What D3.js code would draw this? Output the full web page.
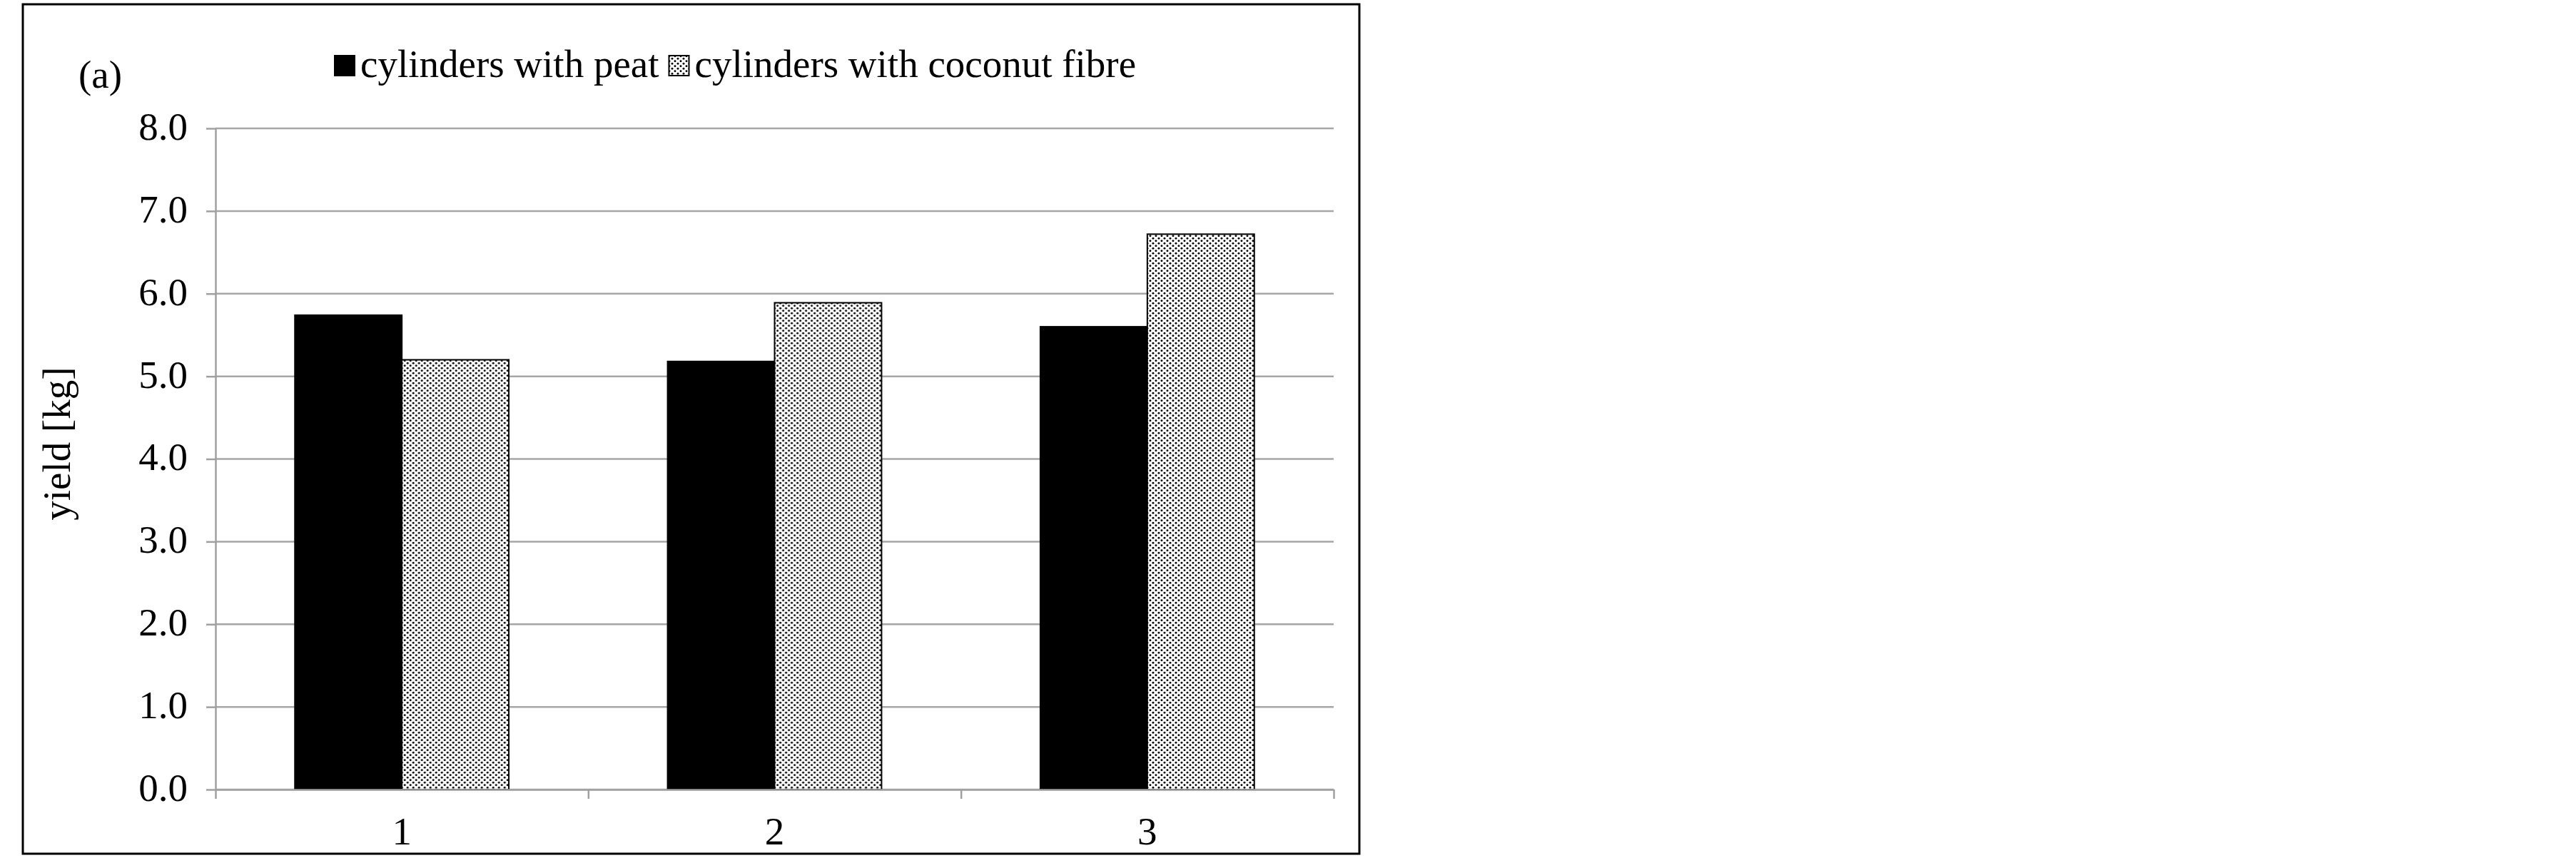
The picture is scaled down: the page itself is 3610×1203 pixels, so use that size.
<!DOCTYPE html>
<html>
<head>
<meta charset="utf-8">
<script src="https://cdn.jsdelivr.net/npm/d3@7"></script>
<style>
  body { margin: 0; background: #fff; }
  text { font-family: "Liberation Serif", "Times New Roman", serif; fill: #000; }
</style>
</head>
<body>
<div id="chart"></div>
<script>
// Chart data
var categories = ["1", "2", "3"];
var seriesNames = ["cylinders with peat", "cylinders with coconut fibre"];
var peat = [5.74, 5.18, 5.60];
var coconut = [5.20, 5.89, 6.72];
var yTicks = [0, 1, 2, 3, 4, 5, 6, 7, 8];

window.onload = function() {
    var width = 3610;
    var height = 1203;
    var plot = { left: 302, right: 1869, top: 180, bottom: 1107 };

    var svg = d3.select("#chart")
                .append("svg")
                .attr("width", width)
                .attr("height", height);

    svg.append("rect")
       .attr("width", width)
       .attr("height", height)
       .attr("fill", "#fff");

    // Dotted fill used for the coconut fibre series (staggered dots)
    var pat = svg.append("defs")
                 .append("pattern")
                 .attr("id", "dots")
                 .attr("patternUnits", "userSpaceOnUse")
                 .attr("width", 8)
                 .attr("height", 7);
    pat.append("rect").attr("width", 8).attr("height", 7).attr("fill", "#fff");
    [[2, 1.75], [6, 5.25], [-2, 5.25], [10, 1.75]].forEach(function(p) {
        pat.append("circle")
           .attr("cx", p[0])
           .attr("cy", p[1])
           .attr("r", 1.45)
           .attr("fill", "#000");
    });

    // Outer frame
    svg.append("rect")
       .attr("x", 32)
       .attr("y", 6)
       .attr("width", 1873)
       .attr("height", 1191)
       .attr("fill", "none")
       .attr("stroke", "#000")
       .attr("stroke-width", 3);

    // Scales
    var x0 = d3.scaleBand()
               .domain(categories)
               .range([plot.left, plot.right])
               .paddingInner(0.426)
               .paddingOuter(0.213);

    var x1 = d3.scaleBand()
               .domain([0, 1])
               .range([0, x0.bandwidth()]);

    var xEdges = d3.scaleLinear()
                   .domain([0, categories.length])
                   .range([plot.left, plot.right]);

    var y = d3.scaleLinear()
              .domain([0, 8])
              .range([plot.bottom, plot.top]);

    // Gridlines
    svg.append("g")
       .selectAll("line")
       .data(yTicks)
       .enter()
       .append("line")
       .attr("x1", plot.left)
       .attr("x2", plot.right)
       .attr("y1", function(d) { return y(d); })
       .attr("y2", function(d) { return y(d); })
       .attr("stroke", "#a6a6a6")
       .attr("stroke-width", 2.5);

    // Bars
    var data = categories.map(function(c, i) {
        return { cat: c, values: [peat[i], coconut[i]] };
    });

    var groups = svg.selectAll(".grp")
                    .data(data)
                    .enter()
                    .append("g")
                    .attr("class", "grp")
                    .attr("transform", function(d) { return "translate(" + x0(d.cat) + ",0)"; });

    groups.selectAll("rect")
          .data(function(d) { return d.values.map(function(v, k) { return { k: k, v: v }; }); })
          .enter()
          .append("rect")
          .attr("x", function(d) { return x1(d.k); })
          .attr("y", function(d) { return y(d.v); })
          .attr("width", x1.bandwidth())
          .attr("height", function(d) { return y(0) - y(d.v); })
          .attr("fill", function(d) { return d.k === 0 ? "#000" : "url(#dots)"; })
          .attr("stroke", "#000")
          .attr("stroke-width", 2);

    // Y axis
    var yAxis = svg.append("g")
                   .attr("transform", "translate(" + plot.left + ",0)")
                   .call(d3.axisLeft(y)
                           .tickValues(yTicks)
                           .tickSizeInner(13)
                           .tickSizeOuter(0)
                           .tickPadding(26)
                           .tickFormat(d3.format(".1f")));
    yAxis.selectAll("path, line").attr("stroke", "#a0a0a0").attr("stroke-width", 2.5);
    yAxis.selectAll("text")
         .attr("font-size", 55)
         .attr("dy", "0.28em")
         .style("font-family", "'Liberation Serif', serif");

    // X axis: boundary ticks
    var xAxis = svg.append("g")
                   .attr("transform", "translate(0," + plot.bottom + ")")
                   .call(d3.axisBottom(xEdges)
                           .tickValues([0, 1, 2, 3])
                           .tickSizeInner(13)
                           .tickSizeOuter(0)
                           .tickFormat(""));
    xAxis.selectAll("path, line").attr("stroke", "#a0a0a0").attr("stroke-width", 2.5);

    // X axis: category labels
    var xLabels = svg.append("g")
                     .attr("transform", "translate(0," + plot.bottom + ")")
                     .call(d3.axisBottom(x0).tickSize(0).tickPadding(38));
    xLabels.select(".domain").remove();
    xLabels.selectAll("text")
           .attr("font-size", 55)
           .style("font-family", "'Liberation Serif', serif");

    // Y axis title
    svg.append("text")
       .attr("transform", "translate(98,622) rotate(-90)")
       .attr("text-anchor", "middle")
       .attr("font-size", 55)
       .text("yield [kg]");

    // Panel label
    svg.append("text")
       .attr("x", 110)
       .attr("y", 123)
       .attr("font-size", 55)
       .text("(a)");

    // Legend
    var lx = 469;
    seriesNames.forEach(function(name, i) {
        svg.append("rect")
           .attr("x", lx)
           .attr("y", 78)
           .attr("width", 28)
           .attr("height", 28)
           .attr("fill", i === 0 ? "#000" : "url(#dots)")
           .attr("stroke", "#000")
           .attr("stroke-width", 2);
        var t = svg.append("text")
                   .attr("x", lx + 36)
                   .attr("y", 108)
                   .attr("font-size", 55)
                   .text(name);
        lx = lx + 36 + t.node().getComputedTextLength() + 14;
    });
};
</script>
</body>
</html>
